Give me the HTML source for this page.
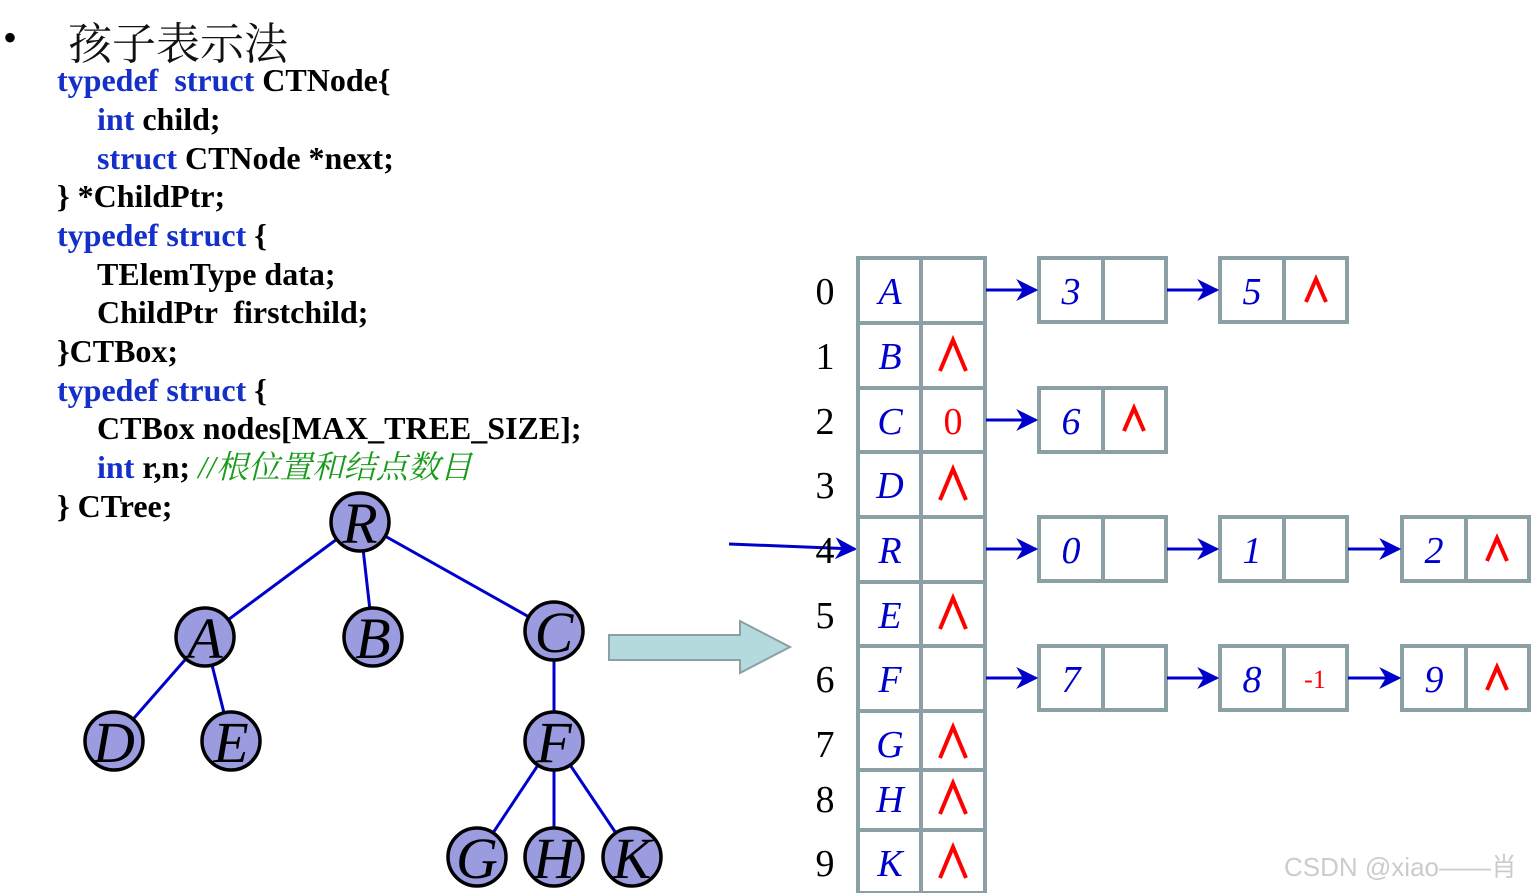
<!DOCTYPE html>
<html><head><meta charset="utf-8"><style>
body{margin:0;width:1539px;height:893px;background:#fff;overflow:hidden;position:relative;font-family:"Liberation Serif","Noto Serif CJK SC",serif}
.c{position:absolute;left:57px;font-weight:bold;font-size:32px;line-height:30px;color:#000;white-space:pre}
.i{left:97px}
.k{color:#1530c8}
</style></head><body>
<div style="position:absolute;left:3px;top:14px;font-size:40px">•</div>
<div style="position:absolute;left:68px;top:8px;font-size:44px;font-family:'Noto Serif CJK SC',serif;color:#111">孩子表示法</div>
<div class="c" style="top:65px"><span class="k">typedef  struct</span> CTNode{</div>
<div class="c i" style="top:104px"><span class="k">int</span> child;</div>
<div class="c i" style="top:143px"><span class="k">struct</span> CTNode *next;</div>
<div class="c" style="top:181px">} *ChildPtr;</div>
<div class="c" style="top:220px"><span class="k">typedef struct</span> {</div>
<div class="c i" style="top:259px">TElemType data;</div>
<div class="c i" style="top:297px">ChildPtr  firstchild;</div>
<div class="c" style="top:336px">}CTBox;</div>
<div class="c" style="top:375px"><span class="k">typedef struct</span> {</div>
<div class="c i" style="top:413px">CTBox nodes[MAX_TREE_SIZE];</div>
<div class="c i" style="top:452px"><span class="k">int</span> r,n; <span style="color:#1a9a1a;font-style:italic;font-weight:normal;font-family:'Liberation Serif','Noto Serif CJK SC',serif">//根位置和结点数目</span></div>
<div class="c" style="top:491px">} CTree;</div>
<svg width="1539" height="893" style="position:absolute;left:0;top:0" font-family="Liberation Serif, serif">
<defs>
<marker id="a2" viewBox="0 0 10 10" refX="9" refY="5" markerWidth="22" markerHeight="22" markerUnits="userSpaceOnUse" orient="auto"><path d="M0,0 L10,5 L0,10 L3,5z" fill="#0000cc"/></marker></defs>
<g stroke="#0000cc" stroke-width="3">
<line x1="360" y1="522" x2="205" y2="637"/><line x1="360" y1="522" x2="373" y2="637"/><line x1="360" y1="522" x2="554" y2="631"/>
<line x1="205" y1="637" x2="114" y2="741"/><line x1="205" y1="637" x2="231" y2="741"/><line x1="554" y1="631" x2="554" y2="741"/>
<line x1="554" y1="741" x2="477" y2="857"/><line x1="554" y1="741" x2="554" y2="857"/><line x1="554" y1="741" x2="632" y2="857"/>
</g>
<g stroke="#000" stroke-width="3.5" fill="#9b9be0">
<circle cx="360" cy="522" r="29"/><circle cx="205" cy="637" r="29"/><circle cx="373" cy="637" r="29"/><circle cx="554" cy="631" r="29"/>
<circle cx="114" cy="741" r="29"/><circle cx="231" cy="741" r="29"/><circle cx="554" cy="741" r="29"/>
<circle cx="477" cy="857" r="29"/><circle cx="554" cy="857" r="29"/><circle cx="632" cy="857" r="29"/>
</g>
<g font-size="58" font-style="italic" text-anchor="middle" fill="#000">
<text x="360" y="543">R</text><text x="205" y="658">A</text><text x="373" y="658">B</text><text x="554" y="652">C</text>
<text x="114" y="762">D</text><text x="231" y="762">E</text><text x="554" y="762">F</text>
<text x="477" y="878">G</text><text x="554" y="878">H</text><text x="632" y="878">K</text>
</g>
<path d="M609,635 H740 V621 L790,647 L740,673 V660 H609 Z" fill="#b4dade" stroke="#8aa0a4" stroke-width="2"/>
<line x1="729" y1="544" x2="855" y2="549" stroke="#0000cc" stroke-width="3" marker-end="url(#a2)"/>
<g fill="none" stroke="#8aa0a4" stroke-width="4">
<rect x="858" y="258" width="127" height="635"/>
<line x1="921" y1="258" x2="921" y2="893"/>
<line x1="858" y1="323" x2="985" y2="323"/><line x1="858" y1="388" x2="985" y2="388"/><line x1="858" y1="452" x2="985" y2="452"/>
<line x1="858" y1="517" x2="985" y2="517"/><line x1="858" y1="582" x2="985" y2="582"/><line x1="858" y1="646" x2="985" y2="646"/>
<line x1="858" y1="711" x2="985" y2="711"/><line x1="858" y1="770" x2="985" y2="770"/><line x1="858" y1="830" x2="985" y2="830"/>
<rect x="1039" y="258" width="127" height="64"/><line x1="1103" y1="258" x2="1103" y2="322"/>
<rect x="1220" y="258" width="127" height="64"/><line x1="1284" y1="258" x2="1284" y2="322"/>
<rect x="1039" y="388" width="127" height="64"/><line x1="1103" y1="388" x2="1103" y2="452"/>
<rect x="1039" y="517" width="127" height="64"/><line x1="1103" y1="517" x2="1103" y2="581"/>
<rect x="1220" y="517" width="127" height="64"/><line x1="1284" y1="517" x2="1284" y2="581"/>
<rect x="1402" y="517" width="127" height="64"/><line x1="1466" y1="517" x2="1466" y2="581"/>
<rect x="1039" y="646" width="127" height="64"/><line x1="1103" y1="646" x2="1103" y2="710"/>
<rect x="1220" y="646" width="127" height="64"/><line x1="1284" y1="646" x2="1284" y2="710"/>
<rect x="1402" y="646" width="127" height="64"/><line x1="1466" y1="646" x2="1466" y2="710"/>
</g>
<g stroke="#0000cc" stroke-width="3" marker-end="url(#a2)">
<line x1="986" y1="290" x2="1036" y2="290"/><line x1="1167" y1="290" x2="1217" y2="290"/>
<line x1="986" y1="420" x2="1036" y2="420"/>
<line x1="986" y1="549" x2="1036" y2="549"/><line x1="1167" y1="549" x2="1217" y2="549"/><line x1="1348" y1="549" x2="1399" y2="549"/>
<line x1="986" y1="678" x2="1036" y2="678"/><line x1="1167" y1="678" x2="1217" y2="678"/><line x1="1348" y1="678" x2="1399" y2="678"/>
</g>
<g font-size="38" text-anchor="middle" fill="#000">
<text x="825" y="304">0</text><text x="825" y="369">1</text><text x="825" y="434">2</text><text x="825" y="498">3</text>
<text x="825" y="563">4</text><text x="825" y="628">5</text><text x="825" y="692">6</text><text x="825" y="757">7</text>
<text x="825" y="812">8</text><text x="825" y="876">9</text>
</g>
<g font-size="38" font-style="italic" text-anchor="middle" fill="#0000cc">
<text x="890" y="304">A</text><text x="890" y="369">B</text><text x="890" y="434">C</text><text x="890" y="498">D</text>
<text x="890" y="563">R</text><text x="890" y="628">E</text><text x="890" y="692">F</text><text x="890" y="757">G</text>
<text x="890" y="812">H</text><text x="890" y="876">K</text>
<text x="1071" y="304">3</text><text x="1252" y="304">5</text><text x="1071" y="434">6</text>
<text x="1071" y="563">0</text><text x="1252" y="563">1</text><text x="1434" y="563">2</text>
<text x="1071" y="692">7</text><text x="1252" y="692">8</text><text x="1434" y="692">9</text>
</g>
<g fill="none" stroke="#ff0000" stroke-width="4">
<path d="M940,371 L953,340 L966,371"/><path d="M940,500 L953,469 L966,500"/><path d="M940,629 L953,598 L966,629"/>
<path d="M940,758 L953,727 L966,758"/><path d="M940,814 L953,783 L966,814"/><path d="M940,878 L953,847 L966,878"/>
<path d="M1306,302 L1316,279 L1326,302"/><path d="M1124,431 L1134,408 L1144,431"/>
<path d="M1487,561 L1497,538 L1507,561"/><path d="M1487,690 L1497,667 L1507,690"/>
</g>
<g fill="#ff0000" text-anchor="middle"><text x="953" y="434" font-size="38">0</text><text x="1315" y="688" font-size="26">-1</text></g>
<text x="1284" y="876" font-family="Liberation Sans, Noto Sans CJK SC, sans-serif" font-size="26" fill="#ccc">CSDN @xiao——肖</text>
</svg>
</body></html>
